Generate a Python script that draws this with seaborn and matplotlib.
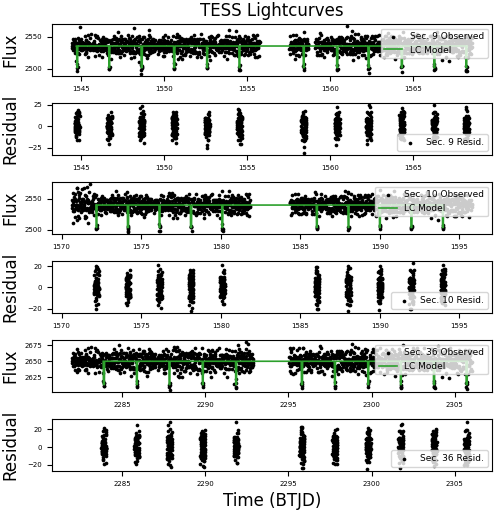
import numpy as np
import matplotlib
matplotlib.use('Agg')
import matplotlib.pyplot as plt
import seaborn as sns

# ---------------------------------------------------------
# Data
# ---------------------------------------------------------
CADENCE = 0.014       # days between flux samples
RES_CADENCE = 0.004   # days between residual samples
HALF_DUR = 0.03       # half transit duration (days)
RES_WINDOW = 0.15     # residuals shown within this distance of mid-transit
IN_TRANSIT_SCATTER = 0.35

# hand-typed scatter patterns (in units of sigma), reused along each lightcurve
NOISE_A = [0.3, -1.2, 0.8, 1.5, -0.4, -0.9, 0.1, 2.1, -1.7, 0.6,
           -0.2, 1.1, -0.7, 0.4, -1.4, 0.9, 0.0, -0.5, 1.8, -1.0,
           0.5, -2.2, 0.7, 1.3, -0.3, -0.8, 1.0, -1.1, 0.2, 1.6,
           -0.6, 0.8, -1.9, 0.4, 1.2, -0.1, -1.3, 0.6, 2.4, -0.9,
           0.1, -0.4, 1.4, -1.6, 0.9, 0.3, -0.7, 1.7, -1.2, -0.2,
           0.5, 1.1, -2.0, 0.0, 0.7, -0.5, 1.9, -0.8, 0.2, -1.5,
           1.0, -0.3, 0.6, -1.0, 1.5, -2.5, 0.4, 0.9, -0.6, 1.2,
           -1.8, 0.1, 0.8, -0.2, 1.3, -1.1, 0.5, -0.9, 2.0, -0.4,
           0.3, -1.4, 1.1, 0.0, -0.7, 1.6, -1.3, 0.7, -0.1, 1.0,
           -2.3, 0.6, 0.2, -0.8, 1.4, -0.5, 0.9, -1.6, 0.4, 1.8, -1.0]
NOISE_B = [-0.8, 1.3, 0.2, -1.5, 0.9, -0.3, 2.2, -1.1, 0.5, -0.6,
           1.7, -2.1, 0.0, 0.8, -0.9, 1.2, -0.4, 0.6, -1.8, 1.0,
           0.3, -0.7, 2.6, -1.3, 0.4, -0.2, 1.5, -1.0, 0.7, -2.4,
           0.1, 1.1, -0.5, 0.9, -1.6, 0.2, 1.9, -0.8, -0.1, 1.4,
           -1.2, 0.6, -2.7, 0.8, 0.3, -0.6, 1.6, -0.9, 0.5, 1.0,
           -1.4, 0.0, 2.0, -0.3, -1.1, 0.7, 1.3, -1.7, 0.4, -0.5,
           0.9, -2.0, 1.2, 0.1, -0.7, 1.8, -1.0, 0.3, -0.2, 2.3,
           -1.5, 0.6, -0.4, 1.1, -0.9, 0.2, -1.9, 1.4, 0.5, -0.1,
           -1.2, 0.8, 2.8, -0.6, 0.0, -1.3, 1.0, -0.8, 0.4]

# Sector 9
S9_SEGMENTS = [(1544.45, 1555.75), (1557.55, 1558.70), (1559.10, 1568.55)]
S9_SIGMA = [7.0, 7.0, 7.0]
S9_BASELINE = 2535.5
S9_DEPTH = 33.5
S9_TRANSITS = [1544.76, 1546.70, 1548.65, 1550.61, 1552.59, 1554.54,
               1558.41, 1560.43, 1562.32, 1564.32, 1566.28, 1568.21]
S9_OUT_T = [1544.94, 1548.20, 1549.10, 1553.90, 1561.00, 1558.40, 1563.50,
            1544.70, 1546.80, 1548.50, 1557.90, 1561.40, 1548.62, 1562.35, 1568.25]
S9_OUT_F = [2564.4, 2563.0, 2561.0, 2561.0, 2566.0, 2557.7, 2556.0,
            2512.0, 2515.0, 2511.0, 2515.0, 2514.0, 2492.6, 2494.0, 2496.0]
S9_RES_OUT_T = [1546.70, 1548.65, 1552.59, 1552.59, 1558.41, 1558.41,
                1560.43, 1562.32, 1564.32, 1566.28, 1568.21]
S9_RES_OUT_R = [-20.0, 23.7, -25.0, -21.4, -30.5, -23.7,
                22.5, 24.5, 21.4, 24.4, 22.5]
S9_FLUX_TICKS = [2500, 2550]
S9_RES_TICKS = [-25, 0, 25]

# Sector 10
S10_SEGMENTS = [(1570.65, 1572.00), (1572.00, 1581.85), (1584.35, 1595.80)]
S10_SIGMA = [12.0, 7.0, 7.0]
S10_BASELINE = 2540.0
S10_DEPTH = 36.0
S10_TRANSITS = [1572.19, 1574.17, 1576.15, 1578.13, 1580.10,
                1586.04, 1588.02, 1590.00, 1591.98, 1593.96]
S10_OUT_T = [1570.73, 1570.94, 1571.30, 1574.10, 1576.16, 1574.18, 1580.11,
             1586.05, 1588.00, 1593.97, 1586.30, 1580.10, 1590.00]
S10_OUT_F = [2511.0, 2566.8, 2565.0, 2560.6, 2498.0, 2498.0, 2498.1,
             2501.4, 2560.6, 2501.4, 2558.0, 2563.0, 2564.0]
S10_RES_OUT_T = [1572.19, 1572.19, 1578.13, 1580.10, 1588.02, 1588.02,
                 1590.00, 1593.96, 1591.98]
S10_RES_OUT_R = [-20.0, 20.0, -21.8, 21.0, -22.0, 20.6, 20.6, 21.6, -20.0]
S10_FLUX_TICKS = [2500, 2550]
S10_RES_TICKS = [-20, 0, 20]

# Sector 36
S36_SEGMENTS = [(2282.00, 2292.90), (2295.05, 2306.05)]
S36_SIGMA = [8.0, 8.0]
S36_BASELINE = 2650.0
S36_DEPTH = 36.0
S36_TRANSITS = [2283.92, 2285.90, 2287.86, 2289.86, 2291.86, 2295.82,
                2297.80, 2299.80, 2301.76, 2303.76, 2305.72]
S36_OUT_T = [2292.46, 2291.96, 2286.26, 2286.76, 2295.86, 2299.66, 2287.87,
             2301.77, 2303.77, 2291.76, 2288.46, 2297.60, 2292.60]
S36_OUT_F = [2679.0, 2675.5, 2662.7, 2665.0, 2670.0, 2667.7, 2606.0,
             2609.0, 2610.0, 2615.0, 2625.5, 2627.0, 2677.0]
S36_RES_OUT_T = [2285.90, 2287.86, 2287.86, 2291.86, 2289.86, 2305.72,
                 2301.76, 2299.80, 2295.82, 2303.76, 2305.72]
S36_RES_OUT_R = [24.6, 28.8, -19.8, 28.0, -20.8, 28.0,
                 24.6, 22.0, 22.9, -21.0, -20.0]
S36_FLUX_TICKS = [2625, 2650, 2675]
S36_RES_TICKS = [-20, 0, 20]

SECTORS = [
    ('9', S9_SEGMENTS, S9_SIGMA, S9_BASELINE, S9_DEPTH, S9_TRANSITS,
     S9_OUT_T, S9_OUT_F, S9_RES_OUT_T, S9_RES_OUT_R, S9_FLUX_TICKS, S9_RES_TICKS),
    ('10', S10_SEGMENTS, S10_SIGMA, S10_BASELINE, S10_DEPTH, S10_TRANSITS,
     S10_OUT_T, S10_OUT_F, S10_RES_OUT_T, S10_RES_OUT_R, S10_FLUX_TICKS, S10_RES_TICKS),
    ('36', S36_SEGMENTS, S36_SIGMA, S36_BASELINE, S36_DEPTH, S36_TRANSITS,
     S36_OUT_T, S36_OUT_F, S36_RES_OUT_T, S36_RES_OUT_R, S36_FLUX_TICKS, S36_RES_TICKS),
]


def scatter_values(start, count):
    # walk through the two hand-typed patterns together
    a = np.array(NOISE_A)
    b = np.array(NOISE_B)
    i = start + np.arange(count)
    return (a[i % len(a)] + b[i % len(b)]) / np.sqrt(2)


def dist_to_transit(t, transits):
    tc = np.array(transits)
    return np.min(np.abs(t[:, None] - tc[None, :]), axis=1)


def build_flux(segments, sigmas, baseline, depth, transits):
    times, noise = [], []
    offset = 0
    for (a, b), sig in zip(segments, sigmas):
        t = np.arange(a, b, CADENCE)
        times.append(t)
        noise.append(scatter_values(offset, len(t)) * sig)
        offset += len(t)
    t = np.concatenate(times)
    n = np.concatenate(noise)
    dist = dist_to_transit(t, transits)
    in_tr = dist < HALF_DUR
    model = baseline - depth * in_tr
    n = np.where(in_tr, n * IN_TRANSIT_SCATTER, n)
    return t, model + n, model


def build_resid(segments, sigmas, transits):
    ts, rs = [], []
    offset = 37
    for tc in transits:
        for (a, b), sig in zip(segments, sigmas):
            if a <= tc <= b:
                t = np.arange(tc - RES_WINDOW, tc + RES_WINDOW, RES_CADENCE)
                ts.append(t)
                rs.append(scatter_values(offset, len(t)) * sig)
                offset += len(t)
                break
    return np.concatenate(ts), np.concatenate(rs)


# ---------------------------------------------------------
# Plot
# ---------------------------------------------------------
fig = plt.figure(figsize=(4.98, 5.11), dpi=100)
axes = fig.subplots(6, 1)
fig.subplots_adjust(left=0.1044, right=0.988, top=0.953, bottom=0.078, hspace=0.52)

for k, (name, segs, sigs, base, depth, tcs, out_t, out_f,
        rout_t, rout_r, fticks, rticks) in enumerate(SECTORS):
    ax_f = axes[2 * k]
    ax_r = axes[2 * k + 1]
    t, flux, model = build_flux(segs, sigs, base, depth, tcs)

    # observed flux + model
    ft = np.concatenate([t, out_t])
    ff = np.concatenate([flux, out_f])
    sns.scatterplot(x=ft, y=ff, color='k', s=7, linewidth=0, ax=ax_f,
                    label=f'Sec. {name} Observed')
    in_model = (t >= tcs[0] - 0.05) & (t <= tcs[-1] + 0.05)
    sns.lineplot(x=t[in_model], y=model[in_model], color='tab:green', lw=1.2,
                 estimator=None, sort=False, ax=ax_f, label='LC Model')
    ax_f.legend(loc='upper right', fontsize=6.5)
    ax_f.set_yticks(fticks)
    ax_f.set_ylabel('Flux', fontsize=12)

    # residuals near transits
    rt, rr = build_resid(segs, sigs, tcs)
    rt = np.concatenate([rt, rout_t])
    rr = np.concatenate([rr, rout_r])
    sns.scatterplot(x=rt, y=rr, color='k', s=7, linewidth=0, ax=ax_r,
                    label=f'Sec. {name} Resid.')
    ax_r.legend(loc='lower right', fontsize=6.5)
    ax_r.set_yticks(rticks)
    ax_r.set_xlim(ax_f.get_xlim())
    ax_r.set_ylabel('Residual', fontsize=12)

for ax in axes:
    ax.tick_params(labelsize=5)

axes[0].set_title('TESS Lightcurves', fontsize=12)
axes[-1].set_xlabel('Time (BTJD)', fontsize=12)
fig.align_ylabels(axes)

plt.savefig('out.png', dpi=100)
plt.close()
